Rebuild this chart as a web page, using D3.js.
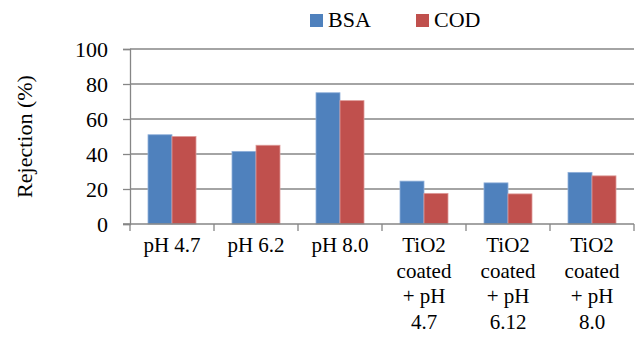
<!DOCTYPE html>
<html>
<head>
<meta charset="utf-8">
<script src="https://cdn.jsdelivr.net/npm/d3@7"></script>
<style>
  html, body { margin: 0; padding: 0; background: #fff; }
  svg { display: block; }
  svg text { font-family: "Liberation Serif", "Times New Roman", serif; fill: #000; }
</style>
</head>
<body>
<svg id="chart" width="638" height="351"></svg>
<script>
// Rejection data
const categories = [
  ["pH 4.7"],
  ["pH 6.2"],
  ["pH 8.0"],
  ["TiO2", "coated", "+ pH", "4.7"],
  ["TiO2", "coated", "+ pH", "6.12"],
  ["TiO2", "coated", "+ pH", "8.0"]
];
const seriesNames = ["BSA", "COD"];
const bsaValues = [51, 41.5, 75, 24.5, 23.5, 29.5];
const codValues = [50, 45, 70.5, 17.5, 17.2, 27.5];
const yTicks = [0, 20, 40, 60, 80, 100];
const colors = ["#4F81BD", "#C0504D"];

const svg = d3.select("#chart");
const plotLeft = 130, plotRight = 634, plotTop = 49, plotBottom = 224;

const x = d3.scaleBand().domain(d3.range(categories.length)).range([plotLeft, plotRight]).paddingInner(0).paddingOuter(0);
const x1 = d3.scaleBand().domain(seriesNames).range([0, x.bandwidth()]).paddingInner(0).paddingOuter(0.75);
const y = d3.scaleLinear().domain([0, 100]).range([plotBottom, plotTop]);

// value axis with ticks
const yAxis = svg.append("g").attr("transform", `translate(${plotLeft},0)`)
  .call(d3.axisLeft(y).tickValues(yTicks).tickSize(7).tickPadding(15).tickFormat(d3.format("d")));
yAxis.attr("font-family", null);
yAxis.select(".domain").attr("stroke", "#868686").attr("stroke-width", 1.3);
yAxis.selectAll(".tick line").attr("stroke", "#868686").attr("stroke-width", 1.3);
yAxis.selectAll(".tick text").attr("font-size", 22).attr("fill", "#000").attr("dy", "0.33em");

// horizontal gridlines
svg.append("g").selectAll("line").data(yTicks.filter(d => d > 0)).join("line")
  .attr("x1", plotLeft).attr("x2", plotRight)
  .attr("y1", d => y(d)).attr("y2", d => y(d))
  .attr("stroke", "#868686").attr("stroke-width", 1.3);

// bars
const data = categories.map((c, i) => ({ i, values: [bsaValues[i], codValues[i]] }));
const groups = svg.append("g").selectAll("g").data(data).join("g")
  .attr("transform", d => `translate(${x(d.i)},0)`);
groups.selectAll("rect").data(d => d.values.map((v, k) => ({ k, v }))).join("rect")
  .attr("x", d => x1(seriesNames[d.k]))
  .attr("width", x1.bandwidth())
  .attr("y", d => y(d.v))
  .attr("height", d => y(0) - y(d.v))
  .attr("fill", d => colors[d.k])
  .attr("stroke", d => d.k === 0 ? "#8FB0DA" : "#DE9A98")
  .attr("stroke-width", 0.8);

// category axis
const xAxisG = svg.append("g").attr("transform", `translate(0,${plotBottom})`);
xAxisG.append("line").attr("x1", plotLeft - 7).attr("x2", plotRight).attr("y1", 0).attr("y2", 0)
  .attr("stroke", "#868686").attr("stroke-width", 1.3);
const tickPos = d3.range(categories.length + 1).map(i => plotLeft + i * x.step());
xAxisG.selectAll("line.tick").data(tickPos).join("line").attr("class", "tick")
  .attr("x1", d => d).attr("x2", d => d).attr("y1", 0).attr("y2", 7)
  .attr("stroke", "#868686").attr("stroke-width", 1.3);

const labels = xAxisG.selectAll("text.cat").data(categories).join("text").attr("class", "cat")
  .attr("text-anchor", "middle").attr("font-size", 21)
  .attr("transform", (d, i) => `translate(${x(i) + x.bandwidth() / 2},28)`);
labels.selectAll("tspan").data(d => d).join("tspan")
  .attr("x", 0).attr("y", (d, j) => j * 25.5).text(d => d);

// y title
svg.append("text").attr("transform", `translate(32,${(plotTop + plotBottom) / 2}) rotate(-90)`)
  .attr("text-anchor", "middle").attr("font-size", 22).text("Rejection (%)");

// legend
const legendX = [310, 416];
const lg = svg.append("g").selectAll("g").data(seriesNames).join("g")
  .attr("transform", (d, i) => `translate(${legendX[i]},14)`);
lg.append("rect").attr("width", 13).attr("height", 13).attr("fill", (d, i) => colors[i]);
lg.append("text").attr("x", 18).attr("y", 13).attr("font-size", 22).text(d => d);
</script>
</body>
</html>
